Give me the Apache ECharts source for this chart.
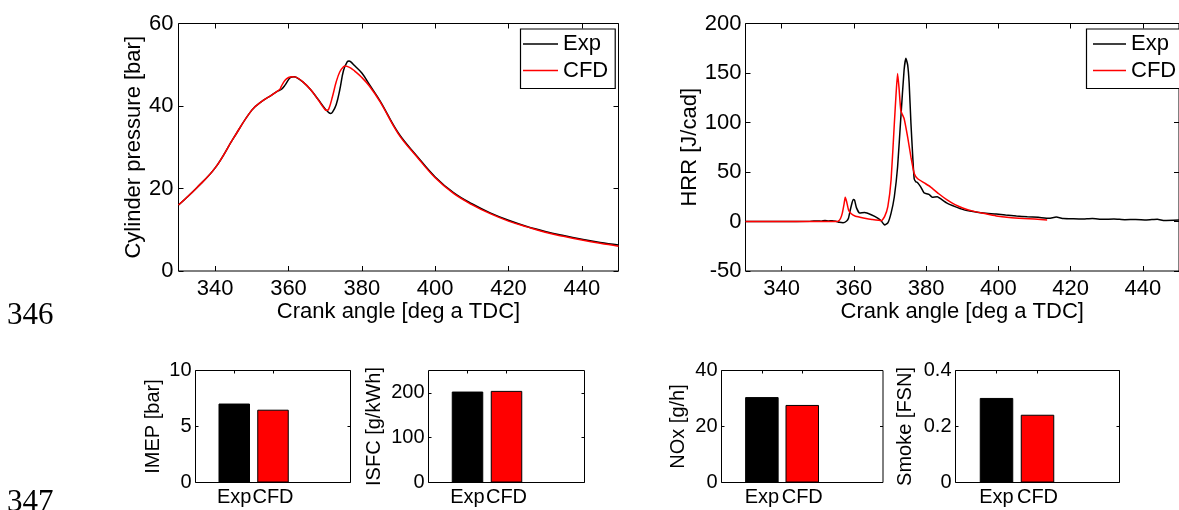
<!DOCTYPE html>
<html><head><meta charset="utf-8">
<script src="https://cdn.jsdelivr.net/npm/echarts@6/dist/echarts.min.js"></script>
<style>html,body{margin:0;padding:0;background:#fff}#c{width:1179px;height:510px}</style>
</head><body><div id="c"></div>
<script>
// ---------- data ----------
const crankTicks = [340, 360, 380, 400, 420, 440];
const pressureTicks = [0, 20, 40, 60];
const hrrTicks = [-50, 0, 50, 100, 150, 200];
const imepTicks = [0, 5, 10];
const isfcTicks = [0, 100, 200];
const noxTicks = [0, 20, 40];
const smokeTicks = [0, 0.2, 0.4];
const barCategories = ['Exp', 'CFD'];

const pressureExpAngle = [330,335,340,345,350,353,355,357,358,359,360,360.5,361.5,362,364,366,368,370,371,371.5,372,373,374,375,376,376.5,377,378,380,382,385,390,395,400,405,410,415,420,425,430,435,440,445,450];
const pressureExp      = [16.0,20.2,25.0,32.2,39.0,41.3,42.4,43.6,44.0,45.0,46.4,46.9,47.1,47.0,45.8,44.0,41.7,39.3,38.4,38.2,38.5,40.3,44.0,48.6,50.7,50.9,50.7,49.8,48.0,45.3,41.2,33.4,27.9,22.8,19.0,16.3,14.1,12.3,10.8,9.6,8.6,7.7,6.9,6.3];
const pressureCfdAngle = [330,335,340,345,350,353,355,357,357.7,358,359,360,361,362,364,366,368,370,370.5,371,372,373,374,375,375.5,376,377,378,380,382,385,390,395,400,405,410,415,420,425,430,435,440,445,450];
const pressureCfd      = [16.0,20.2,25.0,32.2,39.0,41.3,42.4,43.6,44.1,44.7,46.2,46.9,47.1,47.0,45.8,44.0,41.6,39.1,38.95,39.3,42.3,45.8,48.3,49.5,49.7,49.6,49.2,48.5,46.9,44.9,41.0,33.2,27.7,22.6,18.8,16.1,13.9,12.1,10.7,9.4,8.4,7.5,6.7,6.0];

const hrrExpAngle = [330,340,348,350,351,352,353,354,355,356,357,358,358.5,359,359.5,359.8,360.2,360.7,361.6,363,364.8,366.6,367.6,368.5,369.4,370.3,371.2,372.1,373,373.9,374.4,374.9,375.3,375.8,376.3,376.7,377.2,377.6,378.5,379.4,380.2,380.8,381.7,383.1,384,385.8,388,390.3,393,395.8,399.4,402,405,408,411,414,416,418,420,423,426,429,432,435,438,441,444,446,450];
const hrrExp      = [0,0,0.2,0.6,0.3,1.0,0.5,0.8,0.2,-0.8,-1.2,0.5,3.2,11.6,19,22.3,21.5,14,8.5,9,6.8,3.5,0.5,-3.5,-1.5,8.5,25,55,105,153,165,158,140,99,65,43,40,39.5,35,29,28,27.5,24.5,25,23,18.5,15,12,10,8.5,7.5,6.5,5.5,4.8,4.2,3.2,4.5,3,2.8,2.4,3.0,2.2,2.5,1.8,2.0,1.6,2.2,1.0,1.5];
const hrrCfdAngle = [330,355,355.7,356.3,356.8,357.3,357.6,358,358.5,359.2,360.3,362,363,365,367.6,368.5,369.4,370.3,371.2,371.7,372.1,372.5,373,373.9,374.9,375.8,376.7,377.6,379.5,381.2,383.5,385.8,388,390.3,393,395.8,399.4,403,407,410,413.5];
const hrrCfd      = [0,0,0.3,3,8.5,18,24.4,20,12,8,5.5,4,3.2,2,0.8,4.9,15,42,99,130,149.5,135,112,104,85,65,48.5,43.5,39,35,28,21.8,17,13.4,10.5,8.3,5.6,4,3,2.5,1.5];

const imep  = [7.05, 6.5];
const isfc  = [203, 204.5];
const nox   = [30.5, 27.7];
const smoke = [0.302, 0.242];

// ---------- build ----------
const FONT = 'Liberation Sans, Arial, sans-serif';
const BLACK = '#000000', RED = '#ff0000';
const zip = (xs, ys) => xs.map((x, i) => [x, ys[i]]);

const grids = [], xAxes = [], yAxes = [], series = [];

function addPanel(p) {
  const gi = grids.length;
  grids.push({left: p.left, top: p.top, width: p.width, height: p.height,
    show: true, borderColor: BLACK, borderWidth: 1, backgroundColor: 'transparent', containLabel: false});
  const fs = p.fontSize;
  const tick = {show: true, inside: true, length: p.tickLen, lineStyle: {color: BLACK, width: 1}};
  const noLine = {show: false, onZero: false};
  const xlab = {show: true, color: BLACK, fontSize: fs, fontFamily: FONT, margin: p.xMargin, customValues: p.xTicks};
  if (p.xFormatter) xlab.formatter = p.xFormatter;
  xAxes.push({type: 'value', gridIndex: gi, position: 'bottom', min: p.xMin, max: p.xMax,
    axisLine: noLine, splitLine: {show: false},
    axisTick: Object.assign({customValues: p.xTicks}, tick), axisLabel: xlab,
    name: p.xName || '', nameLocation: 'middle', nameGap: p.xNameGap || 0,
    nameTextStyle: {color: BLACK, fontSize: fs, fontFamily: FONT}});
  xAxes.push({type: 'value', gridIndex: gi, position: 'top', min: p.xMin, max: p.xMax,
    axisLine: noLine, splitLine: {show: false},
    axisTick: Object.assign({customValues: p.xTicks}, tick), axisLabel: {show: false}});
  yAxes.push({type: 'value', gridIndex: gi, position: 'left', min: p.yMin, max: p.yMax,
    axisLine: noLine, splitLine: {show: false},
    axisTick: Object.assign({customValues: p.yTicks}, tick),
    axisLabel: {show: true, color: BLACK, fontSize: fs, fontFamily: FONT, margin: p.yMargin, customValues: p.yTicks},
    name: p.yName, nameLocation: 'middle', nameGap: p.yNameGap,
    nameTextStyle: {color: BLACK, fontSize: fs, fontFamily: FONT}});
  yAxes.push({type: 'value', gridIndex: gi, position: 'right', min: p.yMin, max: p.yMax,
    axisLine: noLine, splitLine: {show: false},
    axisTick: Object.assign({customValues: p.yTicks}, tick), axisLabel: {show: false}});
  return {x: xAxes.length - 2, y: yAxes.length - 2};
}

function addLines(ax, expX, expY, cfdX, cfdY, smooth) {
  series.push({type: 'line', name: 'Exp', xAxisIndex: ax.x, yAxisIndex: ax.y, data: zip(expX, expY),
    showSymbol: false, smooth: smooth, lineStyle: {color: BLACK, width: 1.5}, itemStyle: {color: BLACK}, z: 2});
  series.push({type: 'line', name: 'CFD', xAxisIndex: ax.x, yAxisIndex: ax.y, data: zip(cfdX, cfdY),
    showSymbol: false, smooth: smooth, lineStyle: {color: RED, width: 1.5}, itemStyle: {color: RED}, z: 3});
}

function addBars(ax, name, vals, width) {
  series.push({type: 'bar', name: name, xAxisIndex: ax.x, yAxisIndex: ax.y, barWidth: width,
    itemStyle: {borderColor: BLACK, borderWidth: 1},
    data: vals.map((v, i) => ({value: [i + 1, v], itemStyle: {color: i === 0 ? BLACK : RED}}))});
}

// top panels
const pAx = addPanel({left: 178.5, top: 23.5, width: 440, height: 247.5, fontSize: 22, tickLen: 5,
  xMin: 330, xMax: 450, xTicks: crankTicks, xMargin: 7, xName: 'Crank angle [deg a TDC]', xNameGap: 27,
  yMin: 0, yMax: 60, yTicks: pressureTicks, yMargin: 5, yName: 'Cylinder pressure [bar]', yNameGap: 34});
addLines(pAx, pressureExpAngle, pressureExp, pressureCfdAngle, pressureCfd, 0.4);

const hAx = addPanel({left: 745.5, top: 23.5, width: 439.5, height: 247.5, fontSize: 22, tickLen: 5,
  xMin: 330, xMax: 450, xTicks: crankTicks, xMargin: 7, xName: 'Crank angle [deg a TDC]', xNameGap: 27,
  yMin: -50, yMax: 200, yTicks: hrrTicks, yMargin: 4, yName: 'HRR [J/cad]', yNameGap: 45});
addLines(hAx, hrrExpAngle, hrrExp, hrrCfdAngle, hrrCfd, 0.15);

// bottom panels
const barFmt = v => barCategories[Math.round(v) - 1] || '';
function barPanel(left, width, yMax, ticks, name, gap) {
  return addPanel({left: left, top: 370.5, width: width, height: 112, fontSize: 20, tickLen: 3,
    xMin: 0, xMax: 4, xTicks: [1, 2], xMargin: 5, xFormatter: barFmt,
    yMin: 0, yMax: yMax, yTicks: ticks, yMargin: 4, yName: name, yNameGap: gap});
}
const a1 = barPanel(195.5, 155, 10, imepTicks, 'IMEP [bar]', 32);
addBars(a1, 'IMEP', imep, 31.5);
const a2 = barPanel(428.5, 156, 250, isfcTicks, 'ISFC [g/kWh]', 44);
addBars(a2, 'ISFC', isfc, 31.5);
const a3 = barPanel(721.5, 161.5, 40, noxTicks, 'NOx [g/h]', 33);
addBars(a3, 'NOx', nox, 33.5);
const a4 = barPanel(955.5, 164, 0.4, smokeTicks, 'Smoke [FSN]', 40);
addBars(a4, 'Smoke', smoke, 33.5);

function legend(left, top, itemWidth, padLeft) {
  return {data: ['Exp', 'CFD'], orient: 'vertical', left: left, top: top, icon: 'rect',
    itemWidth: itemWidth, itemHeight: 1.6, itemGap: 4.5, selectedMode: false,
    padding: [4, 7, 7, padLeft], borderColor: BLACK, borderWidth: 1.2, backgroundColor: '#fff',
    textStyle: {color: BLACK, fontSize: 22, fontFamily: FONT}};
}

const option = {
  animation: false,
  backgroundColor: '#fff',
  grid: grids, xAxis: xAxes, yAxis: yAxes, series: series,
  legend: [legend(520.5, 29, 35, 2.5), legend(1086.5, 29, 33, 6.5)],
  graphic: [
    {type: 'text', left: 7, top: 300, style: {text: '346', font: '31px "Liberation Serif", "Times New Roman", serif', fill: BLACK}},
    {type: 'text', left: 7, top: 487, style: {text: '347', font: '31px "Liberation Serif", "Times New Roman", serif', fill: BLACK}}
  ]
};
const chart = echarts.init(document.getElementById('c'));
chart.setOption(option);
</script></body></html>
